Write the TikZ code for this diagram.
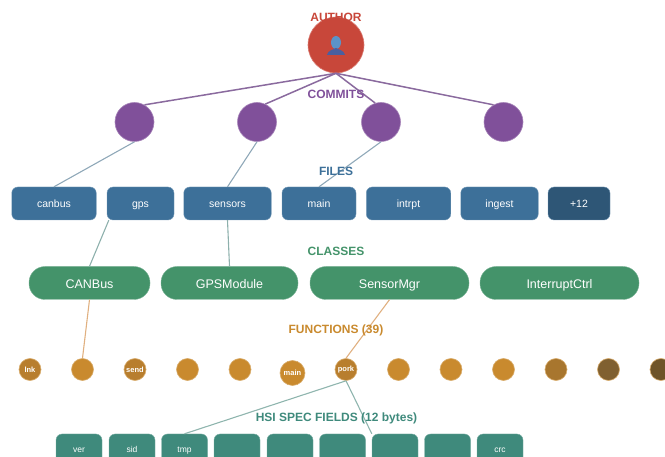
\documentclass[tikz,border=0pt]{standalone}
\usepackage{fontspec}
\setmainfont{Liberation Sans}
\usetikzlibrary{calc}
\definecolor{authorred}{HTML}{C8473A}
\definecolor{commitpurple}{HTML}{80509A}
\definecolor{fileblue}{HTML}{3D7099}
\definecolor{moreblue}{HTML}{2E5676}
\definecolor{classgreen}{HTML}{44936A}
\definecolor{funcgold}{HTML}{C98A2E}
\definecolor{funcdim}{HTML}{B87E2E}
\definecolor{funcbrown}{HTML}{A8762E}
\definecolor{funcdark}{HTML}{806030}
\definecolor{funcdeep}{HTML}{6F5428}
\definecolor{fieldteal}{HTML}{3F8A7C}
\definecolor{iconhead}{HTML}{5B93C8}
\definecolor{iconbody}{HTML}{4A5FA0}
\definecolor{authorline}{HTML}{8A6A9E}
\definecolor{fileline}{HTML}{8FA8B8}
\definecolor{classline}{HTML}{8DB0AC}
\definecolor{funcline}{HTML}{E0B080}
\definecolor{fieldline}{HTML}{8FB5AE}

\begin{document}
\begin{tikzpicture}[x=1pt, y=-1pt,
    author/.style={circle, fill=authorred, draw=authorred!70!white, line width=.6pt, minimum size=56pt, inner sep=0},
    commit/.style={circle, fill=commitpurple, draw=commitpurple!70!white, line width=.6pt, minimum size=39pt, inner sep=0},
    filebox/.style={rectangle, rounded corners=6pt, fill=fileblue, draw=fileblue!70!white, line width=.4pt, text=white, font=\fontsize{10.5}{12}\selectfont, text height=8pt, text depth=0pt, minimum height=33pt, inner sep=0},
    classbox/.style={rectangle, rounded corners=16pt, fill=classgreen, draw=classgreen!70!white, line width=.4pt, text=white, font=\fontsize{12.5}{14}\selectfont, text height=11pt, text depth=0pt, minimum height=33pt, inner sep=0},
    func/.style={circle, fill=funcgold, draw=funcgold!70!white, line width=.6pt, text=white, font=\bfseries\fontsize{7.5}{9}\selectfont, minimum size=22pt, inner sep=0},
    fieldbox/.style={rectangle, rounded corners=6pt, fill=fieldteal, draw=fieldteal!70!white, line width=.4pt, text=white, font=\fontsize{8.5}{10}\selectfont, text height=6pt, text depth=0pt, minimum width=46pt, minimum height=32pt, inner sep=0},
    level/.style={font=\bfseries\fontsize{12}{14}\selectfont},
    authoredge/.style={draw=authorline, line width=1.5pt},
    fileedge/.style={draw=fileline, line width=1.1pt},
    classedge/.style={draw=classline, line width=1.1pt},
    funcedge/.style={draw=funcline, line width=1.1pt},
    fieldedge/.style={draw=fieldline, line width=1.1pt}]
\useasboundingbox (0,0) rectangle (665,457);
\clip (0,0) rectangle (665,457);
\node[author] at (336, 45) (author) {};
\fill[iconhead] (336, 42.5) ellipse (5pt and 6.5pt);
\fill[iconbody] (327, 55) .. controls (328, 50) and (333, 50) .. (336, 48) .. controls (339, 50) and (344, 50) .. (345, 55) -- cycle;
\node[commit] at (134.5, 122) (c1) {};
\node[commit] at (257, 122) (c2) {};
\node[commit] at (381, 122) (c3) {};
\node[commit] at (503.5, 122) (c4) {};
\node[filebox, minimum width=84.5pt] at (54, 203.5) (canbus) {canbus};
\node[filebox, minimum width=67pt] at (140.5, 203.5) (gps) {gps};
\node[filebox, minimum width=87.5pt] at (227.5, 203.5) (sensors) {sensors};
\node[filebox, minimum width=74pt] at (319, 203.5) (main) {main};
\node[filebox, minimum width=84.5pt] at (408.5, 203.5) (intrpt) {intrpt};
\node[filebox, minimum width=77.5pt] at (499.5, 203.5) (ingest) {ingest};
\node[filebox, fill=moreblue, minimum width=62pt] at (579, 203.5) (more) {+12};
\node[classbox, minimum width=121pt] at (89.5, 283) (canclass) {CANBus};
\node[classbox, minimum width=137pt] at (229.5, 283) (gpsclass) {GPSModule};
\node[classbox, minimum width=159pt] at (389.5, 283) (sensorclass) {SensorMgr};
\node[classbox, minimum width=159pt] at (559.5, 283) (intclass) {InterruptCtrl};
\node[func, fill=funcdim] at (30, 369.5) (f1) {lnk};
\node[func] at (82.5, 369.5) (f2) {};
\node[func, fill=funcdim] at (135, 369.5) (f3) {send};
\node[func] at (187.5, 369.5) (f4) {};
\node[func] at (240, 369.5) (f5) {};
\node[func, minimum size=25pt] at (292.5, 373) (f6) {main};
\node[func, fill=funcdim] at (346, 369.5) (f7) {pork};
\node[func] at (398.5, 369.5) (f8) {};
\node[func] at (451, 369.5) (f9) {};
\node[func] at (503.5, 369.5) (f10) {};
\node[func, fill=funcbrown] at (556, 369.5) (f11) {};
\node[func, fill=funcdark] at (608.5, 369.5) (f12) {};
\node[func, fill=funcdeep] at (661, 369.5) (f13) {};
\node[fieldbox] at (79, 450) (ver) {ver};
\node[fieldbox] at (132, 450) (sid) {sid};
\node[fieldbox] at (184.5, 450) (tmp) {tmp};
\node[fieldbox] at (237, 450) (b4) {};
\node[fieldbox] at (290, 450) (b5) {};
\node[fieldbox] at (342.5, 450) (b6) {};
\node[fieldbox] at (395, 450) (b7) {};
\node[fieldbox] at (447.5, 450) (b8) {};
\node[fieldbox] at (500, 450) (crc) {crc};
\path (author.south) edge[authoredge] (c1.60);
\path (author.south) edge[authoredge] (c2.65);
\path (author.south) edge[authoredge] (c3.107);
\path (author.south) edge[authoredge] (c4.120);
\path (c1.south) edge[fileedge] (canbus.north);
\path (c2.south) edge[fileedge] (sensors.north);
\path (c3.south) edge[fileedge] (main.north);
\path ($(gps.south west)+(2,0)$) edge[classedge] (canclass.north);
\path (sensors.south) edge[classedge] (gpsclass.north);
\path (canclass.south) edge[funcedge] (f2.north);
\path (sensorclass.south) edge[funcedge] (f7.north);
\path (f7.south) edge[fieldedge] (tmp.north);
\path (f7.south) edge[fieldedge] (b7.north west);
\node[level, text=authorred] at (336, 17) (authorlabel) {AUTHOR};
\node[level, text=commitpurple] at (336, 94.5) (commitlabel) {COMMITS};
\node[level, text=fileblue] at (336, 171) (filelabel) {FILES};
\node[level, text=classgreen] at (336, 251) (classlabel) {CLASSES};
\node[level, text=funcgold] at (336, 330) (funclabel) {FUNCTIONS (39)};
\node[level, text=fieldteal] at (336.5, 418) (fieldlabel) {HSI SPEC FIELDS (12 bytes)};
\end{tikzpicture}
\end{document}
